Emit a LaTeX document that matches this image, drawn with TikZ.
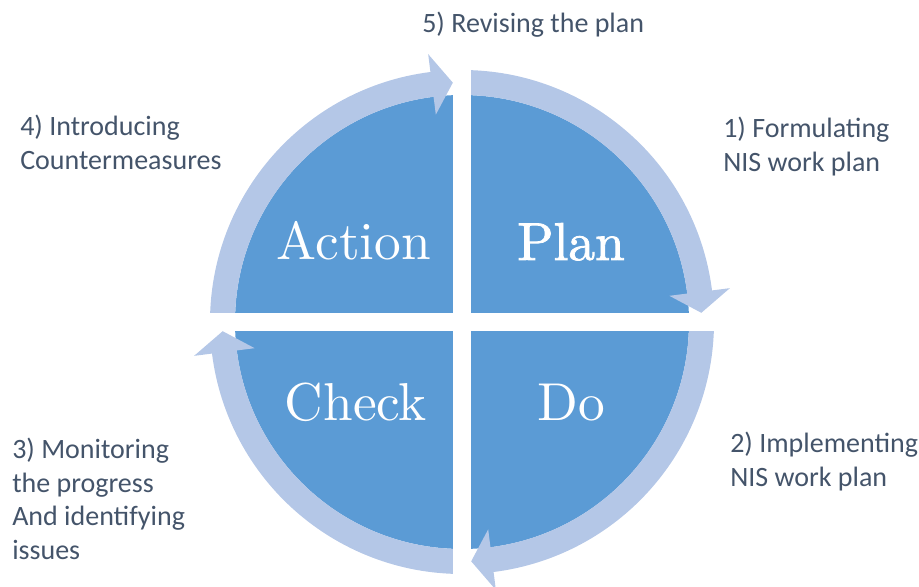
\documentclass[tikz,border=0pt]{standalone}
\usepackage{fontspec}
\newfontfamily\labfont{Carlito}
\newfontfamily\bigfont{lmroman10-regular.otf}
\newfontfamily\bigboldfont[FakeBold=1.5]{lmroman10-regular.otf}
\definecolor{darkq}{HTML}{5B9BD5}
\definecolor{ringc}{HTML}{B4C7E7}
\definecolor{labc}{HTML}{44546A}
\tikzset{
  ringarrow/.style={fill=ringc, draw=none},
  lab/.style={anchor=base west, inner sep=0pt, text=labc, font=\labfont\fontsize{21}{25.5}\selectfont},
  big/.style={anchor=base, inner sep=0pt, text=white, font=\bigfont\fontsize{40}{40}\selectfont},
  band/.style={fill=white, draw=none}
}
\begin{document}
\begin{tikzpicture}[x=0.75pt, y=0.75pt]
\useasboundingbox (0,0) rectangle (919,586);
\coordinate (C) at (462,264);
% dark disc
\fill[darkq] (C) circle[radius=227];
% ring arrows
\foreach \r in {0,90,180,270}{
  \begin{scope}[shift={(C)}, rotate=\r]
    \fill[ringarrow] (90:252) arc[start angle=90, end angle=7.2, radius=252]
      -- (7.2:270) -- (2.2:239.5) -- (7.2:209) -- (7.2:227)
      arc[start angle=7.2, end angle=90, radius=227] -- cycle;
  \end{scope}
}
% white bands
\fill[band] (453,-10) rectangle (471,537);
\fill[band] (185,255) rectangle (740,273);
% quadrant names
\node[big] (action) at (354,326) {Action};
\node[big, font=\bigboldfont\fontsize{40}{40}\selectfont] (plan) at (571,326) {Plan};
\node[big] (check) at (356,166) {Check};
\node[big] (do) at (571,166) {Do};
% step labels
\node[lab] (l5) at (422,553) {5) Revising the plan};
\node[lab] (l1a) at (723,448) {1) Formulating};
\node[lab] (l1b) at (723,414) {NIS work plan};
\node[lab] (l4a) at (20,450) {4) Introducing};
\node[lab] (l4b) at (20,416) {Countermeasures};
\node[lab] (l3a) at (12,128) {3) Monitoring};
\node[lab] (l3b) at (12,94) {the progress};
\node[lab] (l3c) at (12,61) {And identifying};
\node[lab] (l3d) at (12,27) {issues};
\node[lab] (l2a) at (730,134) {2) Implementing};
\node[lab] (l2b) at (730,100) {NIS work plan};
\end{tikzpicture}
\end{document}
